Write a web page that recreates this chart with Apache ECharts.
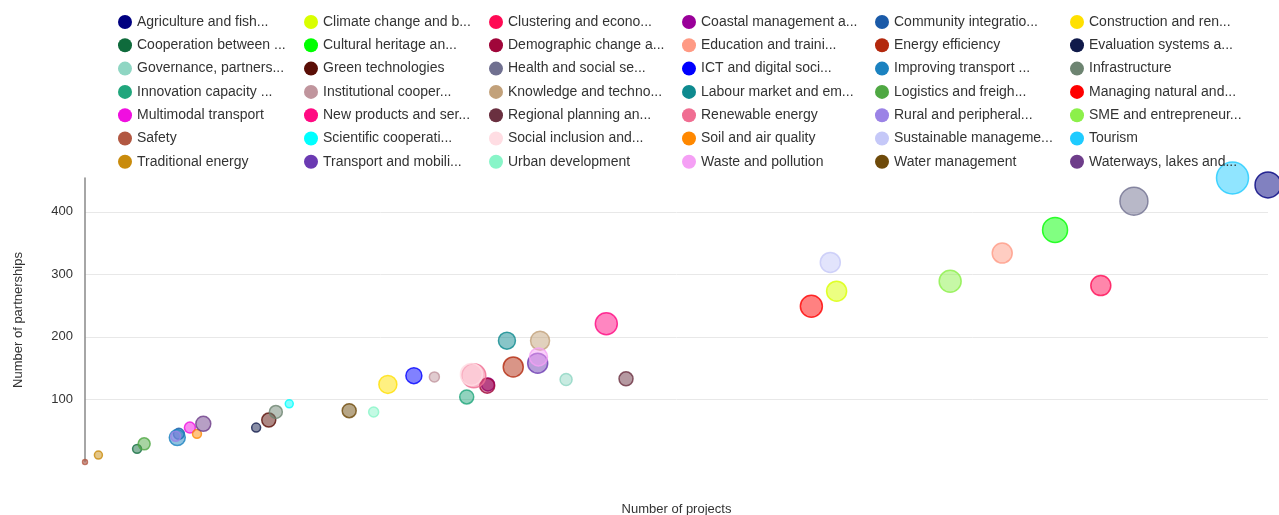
<!DOCTYPE html>
<html>
<head>
<meta charset="utf-8">
<script src="https://cdn.jsdelivr.net/npm/echarts@6/dist/echarts.min.js"></script>
<style>
    html, body {margin: 0; padding: 0; background: #fff;}
    #chart {width: 1279px; height: 515px;}
</style>
</head>
<body>
<div id="chart"></div>
<script>
const themes = [
    "Agriculture and fisheries and forestry", "Climate change and biodiversity", "Clustering and economic cooperation",
    "Coastal management and maritime issues", "Community integration and common identity", "Construction and renovation",
    "Cooperation between emergency services", "Cultural heritage and arts", "Demographic change and immigration",
    "Education and training", "Energy efficiency", "Evaluation systems and results",
    "Governance, partnership", "Green technologies", "Health and social services",
    "ICT and digital society", "Improving transport connections", "Infrastructure",
    "Innovation capacity and awareness-raising", "Institutional cooperation and cooperation networks", "Knowledge and technology transfer",
    "Labour market and employment", "Logistics and freight transport", "Managing natural and technological hazards",
    "Multimodal transport", "New products and services", "Regional planning and development",
    "Renewable energy", "Rural and peripheral development", "SME and entrepreneurship",
    "Safety", "Scientific cooperation", "Social inclusion and equal opportunities",
    "Soil and air quality", "Sustainable management of natural resources", "Tourism",
    "Traditional energy", "Transport and mobility", "Urban development",
    "Waste and pollution", "Water management", "Waterways, lakes and rivers"
]

// number of projects per theme
const projects = [
    150, 95.3, 128.8, 51.1, 11.9, 38.4,
    6.6, 123.0, 51.0, 116.3, 54.3, 21.7,
    61.0, 23.3, 133.0, 41.7, 11.7, 24.2,
    48.4, 44.3, 57.7, 53.5, 7.5, 92.1,
    13.3, 66.1, 68.6, 49.3, 11.5, 109.7,
    0, 25.9, 49.0, 14.2, 94.5, 145.5,
    1.7, 57.4, 36.6, 57.5, 33.5, 15.0
]

// number of partnerships per theme
const partnerships = [
    443, 273, 282, 124, 45, 124,
    21, 371, 122, 334, 152, 55,
    132, 67, 417, 138, 39, 80,
    104, 136, 194, 194, 29, 249,
    55, 221, 133, 138, 41, 289,
    0, 93, 140, 45, 319, 454,
    11, 158, 80, 168, 82, 61
]

// bubble weight per theme
const bubbleVal = [
    169, 100, 100, 42, 30, 81,
    20, 156, 56, 100, 100, 20,
    36, 49, 196, 64, 64, 42,
    49, 25, 90, 72, 36, 121,
    30, 121, 49, 144, 25, 121,
    6, 16, 121, 20, 100, 256,
    16, 100, 25, 81, 49, 56
]

const colors = [
    "#000080", "#d9ff00", "#ff0a54", "#990099", "#1a5aa8", "#ffe000",
    "#0f6b3c", "#00ff00", "#a0063a", "#ff9a84", "#b3280d", "#101a4a",
    "#8fd6c3", "#5a0e06", "#707090", "#0000ff", "#1b82c0", "#6d8471",
    "#20a67c", "#c0959d", "#c2a17a", "#0e8a8f", "#4fa843", "#ff0000",
    "#f00fe0", "#ff0a82", "#6a3040", "#f06e92", "#9b83e6", "#8cf04a",
    "#b25842", "#00ffff", "#ffdde3", "#ff8800", "#c5c8f8", "#1ecbff",
    "#c98b0c", "#6b3ab2", "#88f5c8", "#f5a0f5", "#6e4a0a", "#6e3d8a"
]

const legendLeft = [118, 304, 489, 682, 875, 1070]

function fade(hex, a) {
    let r = parseInt(hex.slice(1, 3), 16)
    let g = parseInt(hex.slice(3, 5), 16)
    let b = parseInt(hex.slice(5, 7), 16)
    return `rgba(${r},${g},${b},${a})`
}

function shortName(name) {
    return name.length > 20 ? name.slice(0, 20) + '...' : name
}

const chart = echarts.init(document.getElementById('chart'))

const series = themes.map((name, i) => ({
    name: name,
    type: 'scatter',
    data: [[projects[i], partnerships[i], bubbleVal[i]]],
    symbolSize: d => 2 * Math.sqrt(d[2]),
    itemStyle: {
        color: fade(colors[i], 0.62),
        borderColor: colors[i],
        borderWidth: 1.5
    }
}))

// one vertical legend per column, items go row by row
const legends = legendLeft.map((left, c) => ({
    orient: 'vertical',
    left: left,
    top: 15,
    padding: 0,
    itemWidth: 14,
    itemHeight: 14,
    itemGap: 9.3,
    icon: 'circle',
    formatter: shortName,
    itemStyle: {opacity: 1, borderWidth: 0},
    textStyle: {fontSize: 14, color: '#333', fontFamily: 'Liberation Sans, Arial, sans-serif'},
    data: themes
        .map((name, i) => ({name: name, idx: i}))
        .filter(d => d.idx % 6 === c)
        .map(d => ({
            name: d.name,
            itemStyle: {color: colors[d.idx], opacity: 1, borderColor: colors[d.idx], borderWidth: 0}
        }))
}))

const option = {
    animation: false,
    textStyle: {fontFamily: 'Liberation Sans, Arial, sans-serif'},
    legend: legends,
    grid: {left: 85, right: 11, top: 178, bottom: 53, outerBoundsMode: 'none', containLabel: false},
    xAxis: {
        type: 'value',
        min: 0,
        max: 150,
        name: 'Number of projects',
        nameLocation: 'middle',
        nameGap: 41,
        nameTextStyle: {fontSize: 13, color: '#333'},
        axisLine: {show: false},
        axisTick: {show: false},
        axisLabel: {show: false},
        splitLine: {show: false}
    },
    yAxis: {
        type: 'value',
        min: 0,
        max: 'dataMax',
        interval: 100,
        name: 'Number of partnerships',
        nameLocation: 'middle',
        nameGap: 60,
        nameTextStyle: {fontSize: 13, color: '#333'},
        axisLine: {show: true, lineStyle: {color: '#888', width: 1.5}},
        axisTick: {show: false},
        axisLabel: {fontSize: 13, color: '#333', margin: 12, showMinLabel: false, showMaxLabel: false},
        splitLine: {show: true, showMinLine: false, showMaxLine: false, lineStyle: {color: '#e8e8e8'}}
    },
    series: series
}

chart.setOption(option)
</script>
</body>
</html>
